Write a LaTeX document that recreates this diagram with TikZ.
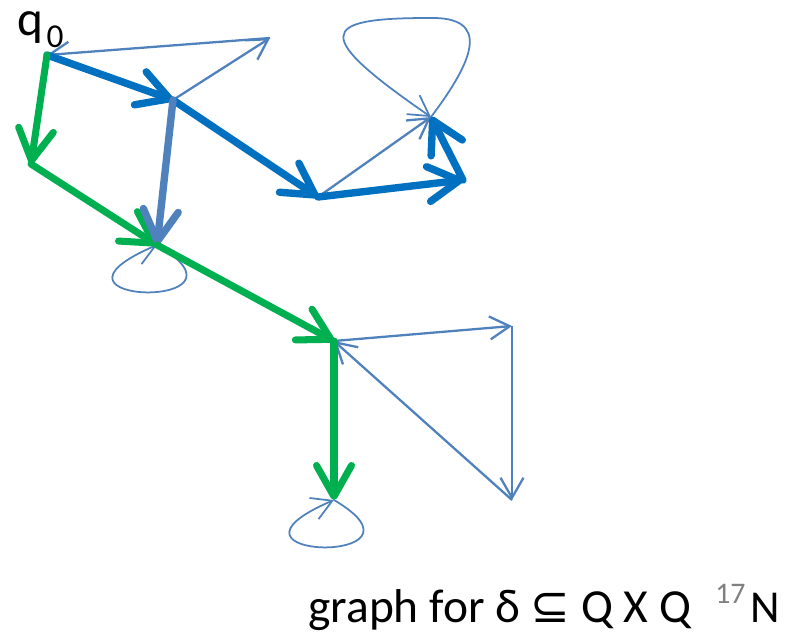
\documentclass[tikz,border=0pt]{standalone}
\usepackage{fontspec}
\setmainfont{Carlito}
\newfontfamily\symfont{DejaVu Sans}
\usetikzlibrary{arrows.meta}

\definecolor{runblue}{HTML}{0070C0}
\definecolor{edgeblue}{HTML}{4F81BD}
\definecolor{pathgreen}{HTML}{00B050}

\begin{document}
\begin{tikzpicture}[x=0.02cm, y=-0.02cm,
    state node/.style={coordinate},
    thin edge/.style={draw=edgeblue, line width=1.3pt, -{Straight Barb[length=4mm, width=4.6mm]}},
    loop edge/.style={thin edge, line width=1pt},
    run edge/.style={draw=runblue, line width=4.2pt, line cap=round, -{Straight Barb[round, length=6.2mm, width=7mm]}},
    back edge/.style={run edge, draw=edgeblue},
    path edge/.style={run edge, draw=pathgreen, line width=4pt}]
    \useasboundingbox (0,0) rectangle (796,633);

    \node[state node] (s0) at (47,55) {};
    \node[state node] (s1) at (270,38) {};
    \node[state node] (s2) at (173,100) {};
    \node[state node] (s3) at (318,197) {};
    \node[state node] (s4) at (463,180) {};
    \node[state node] (s5) at (431,117) {};
    \node[state node] (s6) at (31,164) {};
    \node[state node] (s7) at (157,245) {};
    \node[state node] (s8) at (334,341) {};
    \node[state node] (s9) at (512,326) {};
    \node[state node] (s10) at (512,500) {};
    \node[state node] (s11) at (334,500) {};

    \node[anchor=base west, inner sep=0pt, font=\fontsize{28}{28}\selectfont] (q0) at (17,35)
        {q\kern2pt\raisebox{-7pt}{\fontsize{19}{19}\selectfont 0}};

    % thin transitions
    \draw[thin edge] (s1) -- (s0);
    \draw[thin edge] (s2) -- (s1);
    \draw[thin edge] (s3) -- (s5);
    \draw[thin edge] (s8) -- (s9);
    \draw[thin edge] (s9) -- (s10);
    \draw[thin edge] (s10) -- (s8);
    \draw[loop edge] (s5) .. controls (474,60) and (492,16) .. (428,18)
        .. controls (318,18) and (312,35) .. (s5);
    \draw[loop edge] (s7) .. controls +(112,66) and +(-140,60) .. (s7);
    \draw[loop edge] (s11) .. controls +(112,66) and +(-140,60) .. (s11);

    % runs
    \draw[run edge] (s0) -- (s2);
    \draw[run edge] (s2) -- (s3);
    \draw[run edge] (s3) -- (s4);
    \draw[run edge] (s4) -- (s5);
    \draw[path edge] (s0) -- (s6);
    \draw[path edge] (s6) -- (s7);
    \draw[back edge] (s2) -- (s7);
    \draw[path edge] (s7) -- (s8);
    \draw[path edge] (s8) -- (s11);

    \node[anchor=base west, inner sep=0pt, font=\fontsize{27}{27}\selectfont] (caption) at (308,622)
        {graph for δ {\symfont ⊆} Q X Q};
    \node[anchor=base west, inner sep=0pt, text=gray, font=\fontsize{17}{17}\selectfont] (page) at (715,603) {17};
    \node[anchor=base west, inner sep=0pt, font=\fontsize{26}{26}\selectfont] (mark) at (750,622) {N};
\end{tikzpicture}
\end{document}
